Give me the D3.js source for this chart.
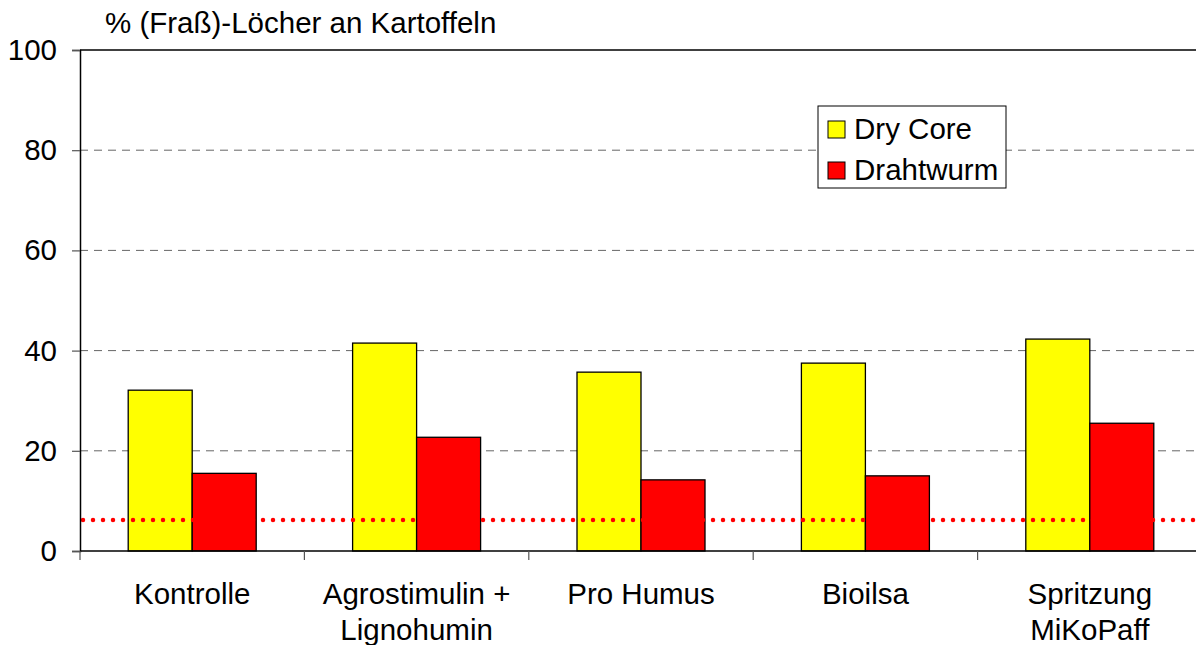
<!DOCTYPE html>
<html>
<head>
<meta charset="utf-8">
<script src="https://cdn.jsdelivr.net/npm/d3@7"></script>
<style>
  body { margin: 0; background: #fff; }
  svg { display: block; font-family: "Liberation Sans", Arial, sans-serif; }
</style>
</head>
<body>
<div id="chart"></div>
<script>
const categories = [["Kontrolle"], ["Agrostimulin +", "Lignohumin"], ["Pro Humus"], ["Bioilsa"], ["Spritzung", "MiKoPaff"]]
const seriesNames = ["Dry Core", "Drahtwurm"]
const dryCore = [32.1, 41.5, 35.7, 37.5, 42.3]
const drahtwurm = [15.5, 22.7, 14.2, 15.0, 25.5]
const threshold = 6.2
const yTicks = [0, 20, 40, 60, 80, 100]
const colors = ["#ffff00", "#ff0000"]

const width = 1196, height = 645
const plotLeft = 80, plotRight = 1202, plotTop = 50, plotBottom = 551
const fontSize = 29.5

const svg = d3.select("#chart").append("svg")
  .attr("width", width)
  .attr("height", height)

const x = d3.scaleBand()
  .domain(d3.range(categories.length))
  .range([plotLeft, plotRight])
  .paddingInner(0)
  .paddingOuter(0)

const y = d3.scaleLinear()
  .domain([0, 100])
  .range([plotBottom, plotTop])

const barW = 64

// gridlines
svg.append("g")
  .selectAll("line")
  .data(yTicks.filter(d => d > 0 && d < 100))
  .enter()
  .append("line")
  .attr("x1", plotLeft)
  .attr("x2", plotRight)
  .attr("y1", d => y(d))
  .attr("y2", d => y(d))
  .attr("stroke", "#666")
  .attr("stroke-width", 1)
  .attr("stroke-dasharray", "8 6")

// top border
svg.append("line")
  .attr("x1", plotLeft).attr("x2", plotRight)
  .attr("y1", y(100)).attr("y2", y(100))
  .attr("stroke", "#000").attr("stroke-width", 1.5)

// bars
const groups = svg.append("g")
  .selectAll("g")
  .data(categories.map((c, i) => ({ i, vals: [dryCore[i], drahtwurm[i]] })))
  .enter()
  .append("g")

groups.selectAll("rect")
  .data(d => d.vals.map((v, k) => ({ i: d.i, k, v })))
  .enter()
  .append("rect")
  .attr("x", d => x(d.i) + x.bandwidth() / 2 - barW + d.k * barW)
  .attr("y", d => y(d.v))
  .attr("width", barW)
  .attr("height", d => y(0) - y(d.v))
  .attr("fill", d => colors[d.k])
  .attr("stroke", "#000")
  .attr("stroke-width", 1.3)

// dotted threshold
svg.append("line")
  .attr("x1", plotLeft + 3)
  .attr("x2", plotRight)
  .attr("y1", y(threshold))
  .attr("y2", y(threshold))
  .attr("stroke", "#ff0000")
  .attr("stroke-width", 4.5)
  .attr("stroke-linecap", "round")
  .attr("stroke-dasharray", "0 10")

// y axis
const yAxis = d3.axisLeft(y)
  .tickValues(yTicks)
  .tickSize(8)
  .tickPadding(15)

const yg = svg.append("g")
  .attr("transform", `translate(${plotLeft},0)`)
  .call(yAxis)
yg.select(".domain").attr("stroke", "#000").attr("stroke-width", 1.5)
yg.selectAll(".tick line").attr("stroke", "#555").attr("stroke-width", 1.2)
yg.selectAll("text").attr("font-size", fontSize).attr("fill", "#000")
  .attr("font-family", "Liberation Sans, Arial, sans-serif")

// x axis baseline + ticks
svg.append("line")
  .attr("x1", plotLeft).attr("x2", plotRight)
  .attr("y1", plotBottom).attr("y2", plotBottom)
  .attr("stroke", "#000").attr("stroke-width", 1.5)

svg.append("g")
  .selectAll("line")
  .data(d3.range(categories.length + 1))
  .enter()
  .append("line")
  .attr("x1", i => i < categories.length ? x(i) : plotRight)
  .attr("x2", i => i < categories.length ? x(i) : plotRight)
  .attr("y1", plotBottom)
  .attr("y2", plotBottom + 9)
  .attr("stroke", "#555")
  .attr("stroke-width", 1.2)

// category labels
const labels = svg.append("g")
  .selectAll("text")
  .data(categories)
  .enter()
  .append("text")
  .attr("x", (d, i) => x(i) + x.bandwidth() / 2)
  .attr("y", 604)
  .attr("text-anchor", "middle")
  .attr("font-size", fontSize)
  .attr("fill", "#000")

labels.selectAll("tspan")
  .data(d => d)
  .enter()
  .append("tspan")
  .attr("x", function () { return d3.select(this.parentNode).attr("x") })
  .attr("dy", (d, i) => i === 0 ? 0 : 36)
  .text(d => d)

// title
svg.append("text")
  .attr("x", 105)
  .attr("y", 33)
  .attr("font-size", fontSize)
  .attr("fill", "#000")
  .text("% (Fraß)-Löcher an Kartoffeln")

// legend
const legend = svg.append("g").attr("transform", "translate(818,106)")
legend.append("rect")
  .attr("width", 188)
  .attr("height", 82)
  .attr("fill", "#fff")
  .attr("stroke", "#000")
  .attr("stroke-width", 1)

seriesNames.forEach((name, k) => {
  legend.append("rect")
    .attr("x", 10)
    .attr("y", 15 + k * 41)
    .attr("width", 17)
    .attr("height", 17)
    .attr("fill", colors[k])
    .attr("stroke", "#000")
  legend.append("text")
    .attr("x", 36)
    .attr("y", 33 + k * 41)
    .attr("font-size", fontSize)
    .attr("fill", "#000")
    .text(name)
})
</script>
</body>
</html>
